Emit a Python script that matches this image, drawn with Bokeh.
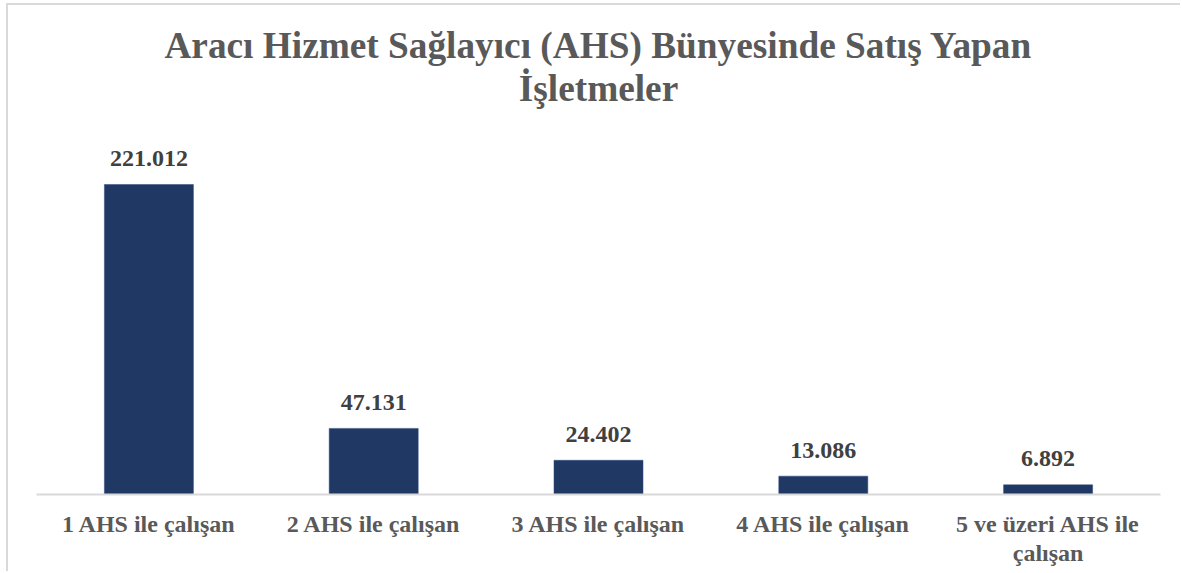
from bokeh.plotting import figure
from bokeh.models import FactorRange, Range1d, ColumnDataSource
from bokeh.core.properties import value
from bokeh.embed import file_html
from bokeh.resources import INLINE

# ---- data ----
categories = ["1 AHS ile çalışan", "2 AHS ile çalışan", "3 AHS ile çalışan",
              "4 AHS ile çalışan", "5 ve üzeri AHS ile\nçalışan"]
counts = [221012, 47131, 24402, 13086, 6892]
count_labels = ["221.012", "47.131", "24.402", "13.086", "6.892"]
title_lines = ["Aracı Hizmet Sağlayıcı (AHS) Bünyesinde Satış Yapan", "İşletmeler"]

FONT = "Liberation Serif"
Y_END = 348600

p = figure(width=1174, height=568, x_range=FactorRange(factors=categories),
           y_range=Range1d(0, Y_END), output_backend="svg", toolbar_location=None,
           y_axis_location=None, min_border_left=28, min_border_right=22,
           min_border_top=0, min_border_bottom=79)
p.outline_line_color = None
p.xgrid.grid_line_color = None
p.ygrid.grid_line_color = None
p.background_fill_color = "white"
p.border_fill_color = "white"
p.styles = {"margin-left": "6px", "margin-top": "3px",
            "border-left": "2px solid #d9d9d9", "border-top": "2px solid #d9d9d9"}

src = ColumnDataSource(dict(cat=categories, val=counts, lab=count_labels))
p.vbar(x="cat", top="val", width=0.396, source=src, fill_color="#203864",
       line_color="#2e4a7a", line_width=0.5)

p.text(x="cat", y="val", text="lab", source=src, text_align="center",
       text_baseline="alphabetic", y_offset=-26, text_font=value(FONT),
       text_font_style="bold", text_font_size="24px", text_color="#404040")

mid = categories[2]
p.text(x=[mid, mid], y=[Y_END, Y_END], text=title_lines, y_offset=[39.5, 83],
       text_align="center", text_baseline="alphabetic", text_font=value(FONT),
       text_font_style="bold", text_font_size="37.3px", text_color="#595959")

ax = p.xaxis[0]
ax.axis_line_color = "#d9d9d9"
ax.axis_line_width = 2
ax.major_tick_line_color = None
ax.minor_tick_line_color = None
ax.major_tick_out = 0
ax.major_tick_in = 0
ax.major_label_standoff = 16
ax.major_label_text_font = FONT
ax.major_label_text_font_style = "bold"
ax.major_label_text_font_size = "24px"
ax.major_label_text_line_height = 1.15
ax.major_label_text_color = "#595959"

open("out.html", "w").write(file_html(p, INLINE))
